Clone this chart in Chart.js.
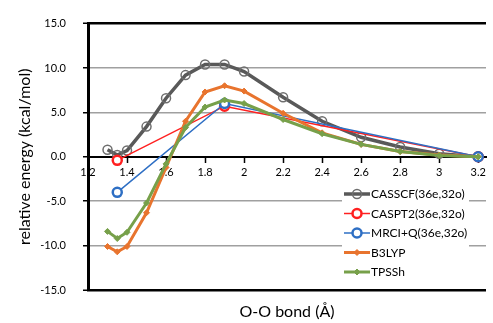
<!DOCTYPE html>
<html>
<head>
<meta charset="utf-8">
<script src="https://cdn.jsdelivr.net/npm/chart.js@4"></script>
<style>
  html, body { margin: 0; padding: 0; background: #fff; overflow: hidden; }
</style>
</head>
<body>
<canvas id="energy" width="493" height="323"></canvas>
<script>
'use strict';

// bond lengths (Å)
const bondFull = [1.3, 1.35, 1.4, 1.5, 1.6, 1.7, 1.8, 1.9, 2.0, 2.2, 2.4, 2.6, 2.8, 3.0, 3.2];
const bondSparse = [1.35, 1.9, 3.2];
const xTickValues = [1.2, 1.4, 1.6, 1.8, 2.0, 2.2, 2.4, 2.6, 2.8, 3.0, 3.2];

// relative energies (kcal/mol)
const casscf = [0.8, 0.2, 0.7, 3.4, 6.6, 9.2, 10.4, 10.4, 9.6, 6.7, 4.0, 2.2, 1.1, 0.35, 0];
const caspt2 = [-0.4, 5.7, 0];
const mrciq = [-4.0, 6.0, 0];
const b3lyp = [-10.1, -10.7, -10.1, -6.3, -1.2, 4.0, 7.3, 8.0, 7.4, 4.9, 2.7, 1.4, 0.6, 0.2, 0];
const tpssh = [-8.4, -9.2, -8.5, -5.2, -0.8, 3.3, 5.6, 6.4, 6.0, 4.2, 2.6, 1.4, 0.6, 0.15, 0];

const seriesNames = ['CASSCF(36e,32o)', 'CASPT2(36e,32o)', 'MRCI+Q(36e,32o)', 'B3LYP', 'TPSSh'];

const FONT = 'Lato, "Liberation Sans", sans-serif';

const pts = (xs, ys) => xs.map((x, i) => ({ x, y: ys[i] }));

// Excel-like boxed legend sitting over the lower right of the plot
const boxLegend = {
  id: 'boxLegend',
  afterDraw(chart) {
    const ctx = chart.ctx;
    const left = 342, top = 185, w = 127, h = 97, rowH = 19.5;
    ctx.save();
    ctx.fillStyle = '#fff';
    ctx.fillRect(left, top, w, h);
    chart.data.datasets.forEach((ds, i) => {
      const cy = top + 9 + i * rowH;
      ctx.strokeStyle = ds.borderColor;
      ctx.lineWidth = ds.borderWidth;
      ctx.beginPath();
      ctx.moveTo(left + 2, cy);
      ctx.lineTo(left + 28, cy);
      ctx.stroke();
      ctx.fillStyle = ds.pointBackgroundColor;
      ctx.strokeStyle = ds.pointBorderColor;
      ctx.lineWidth = ds.pointBorderWidth;
      Chart.helpers.drawPoint(ctx, {
        pointStyle: ds.pointStyle, radius: ds.pointRadius,
        borderWidth: ds.pointBorderWidth, rotation: 0
      }, left + 15, cy);
      ctx.fillStyle = '#000';
      ctx.font = '12px ' + FONT;
      ctx.textBaseline = 'middle';
      ctx.fillText(ds.label, left + 29, cy + 0.5);
    });
    ctx.restore();
  }
};

new Chart(document.getElementById('energy'), {
  type: 'scatter',
  data: {
    datasets: [
      {
        label: seriesNames[0], data: pts(bondFull, casscf), showLine: true, order: 4,
        borderColor: '#595959', borderWidth: 3.5,
        pointStyle: 'circle', pointRadius: 4.5, pointBorderWidth: 1.5,
        pointBorderColor: '#6e6e6e', pointBackgroundColor: 'rgba(255,255,255,0)'
      },
      {
        label: seriesNames[1], data: pts(bondSparse, caspt2), showLine: true, order: 3,
        borderColor: '#ff2020', borderWidth: 1.5,
        pointStyle: 'circle', pointRadius: 4.5, pointBorderWidth: 2.5,
        pointBorderColor: '#ff2020', pointBackgroundColor: '#fff'
      },
      {
        label: seriesNames[2], data: pts(bondSparse, mrciq), showLine: true, order: 2,
        borderColor: '#2e6fc4', borderWidth: 1.5,
        pointStyle: 'circle', pointRadius: 4.5, pointBorderWidth: 2.5,
        pointBorderColor: '#2e6fc4', pointBackgroundColor: '#fff'
      },
      {
        label: seriesNames[3], data: pts(bondFull, b3lyp), showLine: true, order: 1,
        borderColor: '#e8742e', borderWidth: 3,
        pointStyle: 'rectRot', pointRadius: 3, pointBorderWidth: 1,
        pointBorderColor: '#e8742e', pointBackgroundColor: '#e8742e'
      },
      {
        label: seriesNames[4], data: pts(bondFull, tpssh), showLine: true, order: 0,
        borderColor: '#77a04a', borderWidth: 3,
        pointStyle: 'rectRot', pointRadius: 3, pointBorderWidth: 1,
        pointBorderColor: '#77a04a', pointBackgroundColor: '#77a04a'
      }
    ]
  },
  options: {
    responsive: false,
    devicePixelRatio: 1,
    animation: false,
    layout: { padding: { top: 20, left: 0, right: 0, bottom: 0 } },
    plugins: { legend: { display: false }, tooltip: { enabled: false } },
    scales: {
      x: {
        type: 'linear', position: { y: 0 }, min: 1.2, max: 3.24,
        afterBuildTicks: s => { s.ticks = xTickValues.map(v => ({ value: v })); },
        afterFit: s => { s.paddingLeft = 0; s.paddingRight = 0; },
        ticks: {
          color: '#000', padding: 4, maxRotation: 0, autoSkip: false,
          font: { family: FONT, size: 11 },
          callback: v => String(Math.round(v * 10) / 10)
        },
        grid: { drawOnChartArea: false, drawTicks: true, tickLength: 5, tickColor: '#000', tickWidth: 1.5 },
        border: { display: true, color: '#000', width: 2 }
      },
      x2: {
        type: 'linear', position: 'bottom', min: 1.2, max: 3.24,
        afterFit: s => { s.height = 33; s.paddingLeft = 0; s.paddingRight = 0; },
        ticks: { display: false },
        grid: { display: false },
        border: { display: false },
        title: {
          display: true, text: 'O-O bond (Å)', color: '#000',
          font: { family: FONT, size: 16 }, padding: { top: 0, bottom: 2 }
        }
      },
      y: {
        min: -15, max: 15,
        afterFit: s => { s.width = 88; },
        ticks: {
          stepSize: 5, color: '#000', padding: 17,
          font: { family: FONT, size: 11 },
          callback: v => v.toFixed(1)
        },
        grid: {
          color: c => (Math.abs(c.tick.value) === 15 || c.tick.value === 0) ? '#000' : '#a0a0a0',
          lineWidth: c => Math.abs(c.tick.value) === 15 ? 2.5 : 1.5,
          drawTicks: true, tickLength: 5, tickColor: '#000', tickWidth: 1.5
        },
        border: { display: true, color: '#000', width: 3 },
        title: {
          display: true, text: 'relative energy (kcal/mol)', color: '#000',
          font: { family: FONT, size: 16 }, padding: { top: 15, bottom: 0 }
        }
      }
    }
  },
  plugins: [boxLegend]
});
</script>
</body>
</html>
